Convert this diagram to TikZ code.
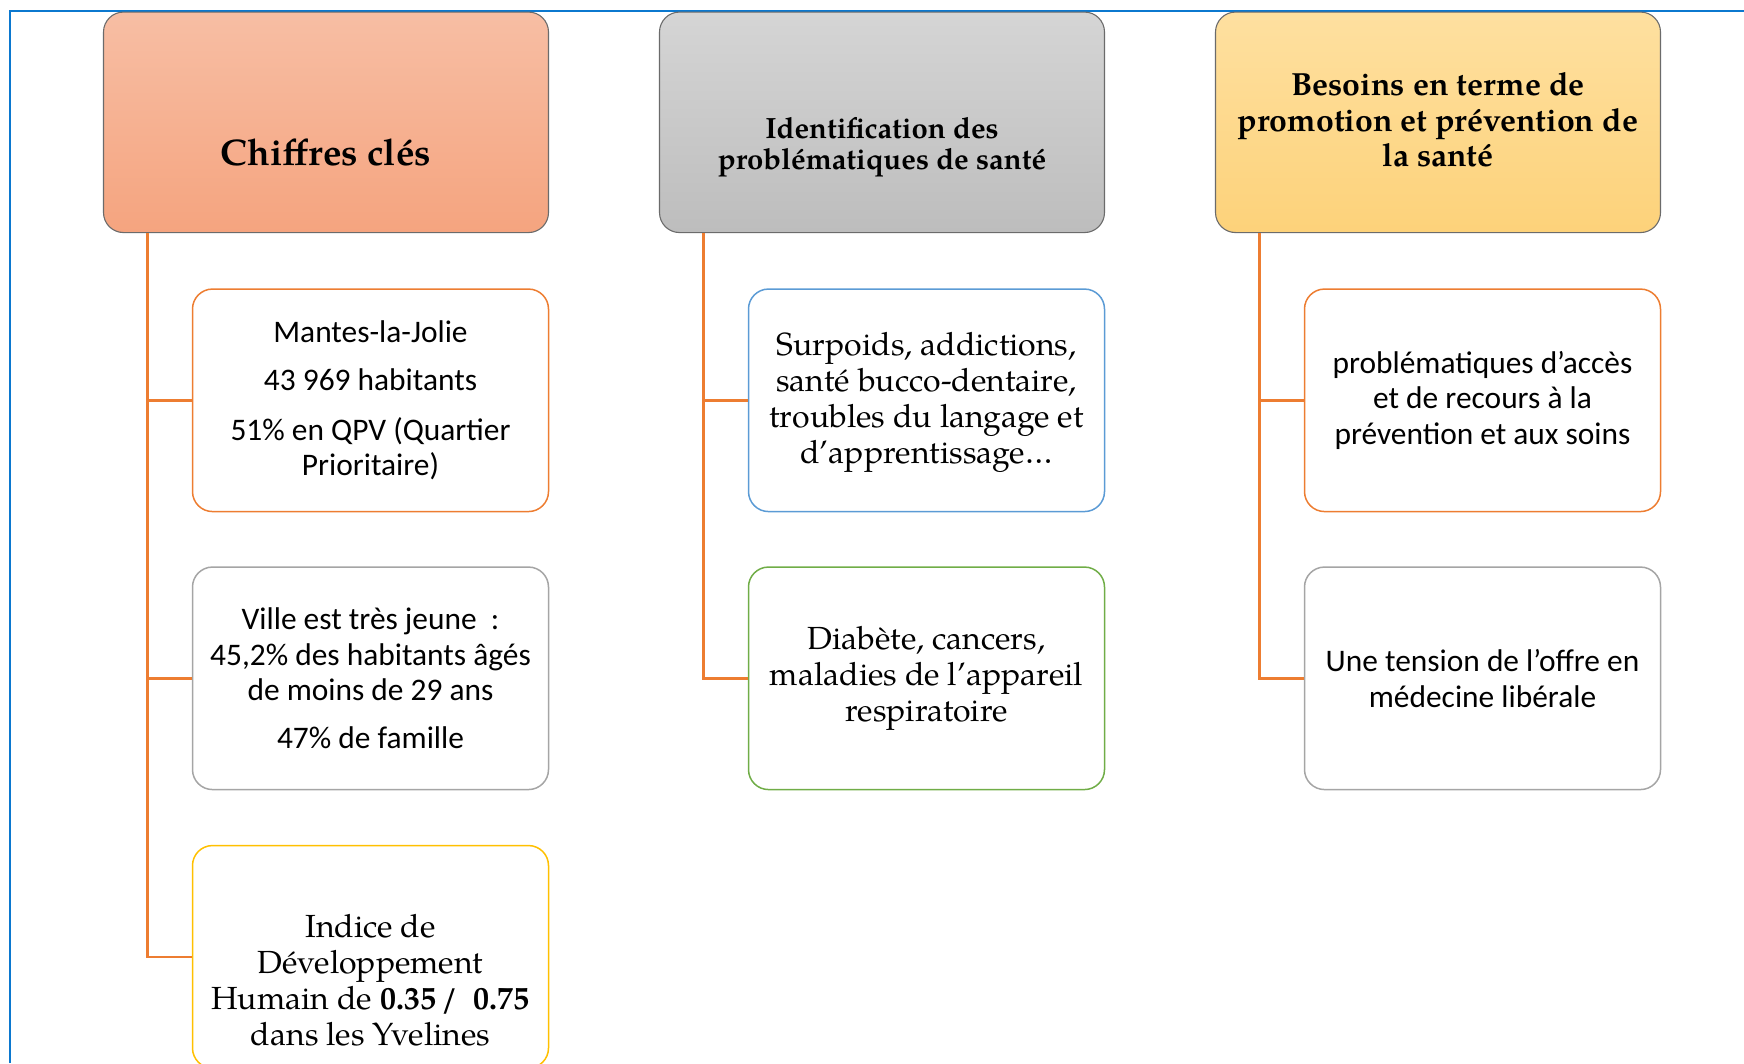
\documentclass[tikz,border=0pt]{standalone}
\usepackage{fontspec}
\setmainfont{TeX Gyre Pagella}
\newfontfamily\calfont{Carlito}
\definecolor{frameblue}{HTML}{0B78CF}
\definecolor{conn}{HTML}{ED7D31}
\definecolor{cOrange}{HTML}{ED7D31}
\definecolor{cGray}{HTML}{A5A5A5}
\definecolor{cGold}{HTML}{FFC000}
\definecolor{cBlue}{HTML}{5B9BD5}
\definecolor{cGreen}{HTML}{70AD47}
\definecolor{hAtop}{HTML}{F7BEA4}
\definecolor{hAbot}{HTML}{F5A47F}
\definecolor{hBtop}{HTML}{D5D5D5}
\definecolor{hBbot}{HTML}{BDBDBD}
\definecolor{hCtop}{HTML}{FEE0A0}
\definecolor{hCbot}{HTML}{FDD27A}
\begin{document}
\begin{tikzpicture}[x=1pt,y=-1pt,
  headbox/.style={rectangle, rounded corners=20pt, draw=black!58, line width=1.1pt,
    minimum width=445pt, minimum height=220.5pt, inner sep=0pt},
  childbox/.style={rectangle, rounded corners=20pt, draw=#1, line width=1.5pt, fill=white,
    minimum width=356pt, minimum height=222.5pt, inner sep=0pt, align=center},
  sanstxt/.style={font=\calfont\fontsize{31.4}{35.5}\selectfont},
  seriftxt/.style={font=\fontsize{32}{36}\selectfont},
  headtxt/.style={align=center, inner sep=0pt},
  connline/.style={draw=conn, line width=2.4pt}
]
\useasboundingbox (0,0) rectangle (1744,1063);
% frame
\draw[frameblue, line width=2.4pt] (10,1063) -- (10,11) -- (1744,11);

% headers
\node[headbox, top color=hAtop, bottom color=hAbot] (h1) at (326,122.3) {};
\node[headbox, top color=hBtop, bottom color=hBbot] (h2) at (882,122.3) {};
\node[headbox, top color=hCtop, bottom color=hCbot] (h3) at (1438,122.3) {};

\node[headtxt, font=\bfseries\fontsize{37}{40}\selectfont] (t1) at (326,152) {Chiffres clés};
\node[headtxt, font=\bfseries\fontsize{29.3}{31}\selectfont] (t2) at (882,147.5) {Identification des\\problématiques de santé};
\node[headtxt, font=\bfseries\fontsize{32}{35.5}\selectfont] (t3) at (1438,120) {Besoins en terme de\\promotion et prévention de\\la santé};

% column 1
\node[childbox=cOrange, sanstxt] (c11) at (370.5,400.3)
  {Mantes-la-Jolie\\[13pt]43 969 habitants\\[14pt]51\% en QPV (Quartier\\Prioritaire)};
\node[childbox=cGray, sanstxt] (c12) at (370.5,678.3)
  {Ville est très jeune~ :\\45,2\% des habitants âgés\\de moins de 29 ans\\[12pt]47\% de famille};
\node[childbox=cGold] (c13) at (370.5,956.8) {};
\node[headtxt, seriftxt] (t13) at (370.5,980)
  {Indice de\\Développement\\Humain de \textbf{0.35\,/~ 0.75}\\dans les Yvelines};

% column 2
\node[childbox=cBlue] (c21) at (926.5,400.3) {};
\node[headtxt, seriftxt] (t21) at (926.5,402)
  {Surpoids, addictions,\\santé bucco-dentaire,\\troubles du langage et\\d’apprentissage…};
\node[childbox=cGreen, seriftxt] (c22) at (926.5,678.3)
  {Diabète, cancers,\\maladies de l’appareil\\respiratoire};

% column 3
\node[childbox=cOrange, sanstxt] (c31) at (1482.5,400.3)
  {problématiques d’accès\\et de recours à la\\prévention et aux soins};
\node[childbox=cGray, sanstxt] (c32) at (1482.5,678.3)
  {Une tension de l’offre en\\médecine libérale};

% connectors
\draw[connline] (h1.south west) ++(44.5,0) |- (c13.west);
\draw[connline] (h1.south west) ++(44.5,0) |- (c11.west);
\draw[connline] (h1.south west) ++(44.5,0) |- (c12.west);
\draw[connline] (h2.south west) ++(44.5,0) |- (c22.west);
\draw[connline] (h2.south west) ++(44.5,0) |- (c21.west);
\draw[connline] (h3.south west) ++(44.5,0) |- (c32.west);
\draw[connline] (h3.south west) ++(44.5,0) |- (c31.west);
\end{tikzpicture}
\end{document}
